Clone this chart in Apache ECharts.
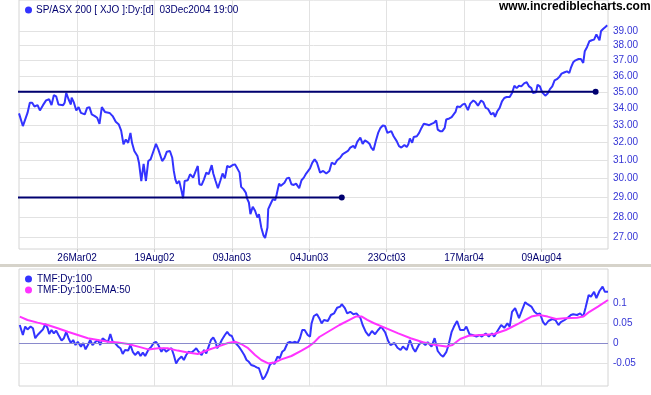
<!DOCTYPE html>
<html><head><meta charset="utf-8">
<script src="https://cdn.jsdelivr.net/npm/echarts@6/dist/echarts.min.js"></script>
<style>html,body{margin:0;padding:0;background:#fff}#c{width:651px;height:395px}</style>
</head><body><div id="c"></div>
<script>
// ---- data ----
var tickDays = [75, 175, 275, 375, 475, 575, 675];
var tickLabels = ['26Mar02', '19Aug02', '09Jan03', '04Jun03', '23Oct03', '17Mar04', '09Aug04'];
var priceTicks = [27, 28, 29, 30, 31, 32, 33, 34, 35, 36, 37, 38, 39];
var tmfTicks = [-0.05, 0, 0.05, 0.1];

var priceDay = [0,2,5,7,11,14,17,20,24,27,31,35,39,42,45,48,51,57,59,61,64,67,68,71,74,77,80,85,88,91,94,98,101,104,107,111,117,121,125,129,132,135,138,141,144,146,149,153,155,158,161,164,167,170,173,177,180,185,188,191,195,198,200,202,204,207,210,212,214,218,221,225,228,231,233,236,239,242,245,249,251,254,257,260,263,266,269,272,276,279,282,285,287,290,293,295,297,299,302,305,308,310,313,316,318,321,322,325,328,331,333,336,338,340,343,346,349,352,355,358,362,365,368,371,376,379,382,385,389,393,397,401,404,408,411,415,418,421,425,428,432,434,437,441,444,447,450,453,455,458,461,464,467,470,473,476,478,481,484,488,491,494,498,501,503,505,508,510,514,517,520,523,527,530,533,536,539,541,544,547,550,552,556,559,561,564,566,570,573,576,580,583,587,590,593,597,600,603,606,610,613,615,618,621,624,627,630,634,637,640,643,646,649,653,656,659,662,664,668,670,673,676,680,683,686,689,692,695,698,701,705,708,711,713,716,719,723,726,729,731,734,737,740,743,746,750,752,755,758,760];
var priceVal = [33.68,33.62,32.93,33.02,33.71,34.33,34.33,34.1,34.18,33.86,34.18,34.47,34.54,34.18,34.79,34.72,34.22,34.18,34.33,34.93,34.54,34.22,34.64,34.33,33.86,34.06,33.71,33.62,34.01,34.06,33.62,33.52,33.42,33.06,34.06,33.77,33.71,33.52,33.18,33.02,32.66,31.87,32.15,31.96,32.53,31.96,31.5,31.22,30.85,29.86,30.79,29.86,30.94,31.03,31.4,31.9,31.59,30.94,31.12,31.46,31.5,31.12,30.4,29.95,29.72,29.86,29.34,28.96,29.86,29.9,30.22,30.04,30.36,30.67,29.69,29.65,29.95,30.31,30.22,30.72,30.26,29.86,29.48,29.86,30.26,30.0,30.67,30.61,30.72,30.76,30.54,30.31,29.55,29.43,29.25,28.91,28.74,28.15,28.52,28.32,27.98,28.15,27.49,27.09,26.98,27.49,28.4,28.66,28.91,28.86,29.17,29.72,29.6,29.51,29.77,30.0,30.04,29.69,29.65,29.72,29.48,29.9,30.04,30.26,30.54,30.85,31.03,30.85,30.31,30.4,30.26,30.4,30.85,30.76,30.98,31.12,31.31,31.4,31.5,31.69,31.79,31.65,32.02,32.26,31.9,32.1,32.02,31.9,31.69,31.54,32.06,32.53,32.82,32.96,32.93,32.53,32.63,32.63,32.34,32.06,31.77,31.69,31.84,31.73,31.88,32.21,31.96,32.29,32.34,32.53,32.82,33.06,33.02,32.98,33.06,33.12,33.26,32.72,32.63,32.63,32.82,33.32,33.38,33.46,33.38,33.77,34.1,34.07,34.21,34.27,33.88,34.27,34.47,34.35,34.15,34.47,34.35,34.01,33.95,33.62,33.71,33.47,33.81,34.01,34.41,34.62,34.68,34.68,34.93,35.38,35.23,35.38,35.34,35.55,35.6,35.34,35.23,34.93,34.97,35.44,35.34,34.97,34.76,34.89,35.17,35.34,35.72,35.8,35.93,36.15,36.24,36.3,36.19,36.52,36.89,37.02,37.11,37.11,36.85,37.63,37.91,38.3,38.37,38.41,38.77,38.37,39.0,39.16,39.3,39.4];

var tmfDay = [1,3,5,8,11,15,18,21,24,28,31,34,37,39,42,45,48,51,55,58,61,64,67,70,73,76,80,83,86,89,92,95,99,102,105,108,111,115,118,121,124,128,131,134,137,141,144,147,150,154,157,160,163,167,171,174,177,180,184,187,190,193,197,200,203,206,210,213,216,219,223,226,229,232,236,239,242,245,248,251,254,256,259,262,266,269,272,275,278,281,284,287,291,294,297,300,304,307,310,313,315,318,321,324,327,330,334,337,340,343,347,350,353,356,360,363,366,369,373,376,378,381,385,388,391,394,399,403,407,411,415,417,421,424,428,432,436,441,444,448,452,456,460,464,468,473,477,480,485,489,493,496,501,505,509,512,517,521,525,528,533,537,541,545,548,552,555,559,562,566,570,575,578,582,586,591,595,598,603,607,611,614,619,623,627,631,634,637,641,646,650,654,657,662,666,670,673,677,680,684,689,693,697,700,705,709,713,716,721,725,729,732,736,739,743,746,750,754,757,761];
var tmfVal = [0.045,0.0325,0.02,0.041,0.034,0.041,0.037,0.012,0.02,0.028,0.034,0.0475,0.037,0.0225,0.0325,0.024,0.031,0.02,0.006,0.012,0.028,0.012,0,0.0075,-0.005,0.003,-0.009,0,-0.016,-0.005,0.0075,-0.005,0.003,0.0075,-0.005,0.012,0.0075,0.003,0.0225,0.003,0,-0.009,-0.013,-0.0275,-0.0175,-0.019,-0.005,-0.022,-0.03,-0.022,-0.0325,-0.024,-0.0325,-0.0175,-0.009,0,0.003,-0.005,-0.022,-0.013,-0.022,-0.0175,-0.013,-0.03,-0.051,-0.041,-0.034,-0.0425,-0.03,-0.022,-0.024,-0.019,-0.013,-0.022,-0.03,-0.0175,-0.026,-0.009,0.0075,0.014,0.003,-0.013,-0.005,0.0075,0.02,0.028,0.02,0.0175,0.003,-0.0025,-0.009,-0.0175,-0.03,-0.0425,-0.047,-0.055,-0.0575,-0.061,-0.063,-0.08,-0.091,-0.084,-0.072,-0.055,-0.049,-0.0525,-0.034,-0.038,-0.022,-0.0175,0,0.003,0,0.003,0,0.012,0.0325,0.0325,0.02,0.016,0.049,0.0675,0.072,0.062,0.049,0.0575,0.055,0.07,0.074,0.088,0.091,0.097,0.087,0.074,0.078,0.072,0.074,0.063,0.045,0.028,0.018,0.03,0.022,0.0325,0.041,0.027,0.005,-0.005,0,-0.012,-0.0175,-0.009,-0.0175,0.0075,-0.013,-0.022,-0.003,0.002,-0.005,0.002,-0.009,0.012,-0.02,-0.03,-0.034,-0.023,-0.005,0.028,0.041,0.055,0.0325,0.0325,0.041,0.022,0.02,0.016,0.02,0.016,0.024,0.016,0.024,0.016,0.0325,0.045,0.038,0.049,0.041,0.078,0.087,0.062,0.0825,0.102,0.097,0.091,0.078,0.072,0.074,0.053,0.045,0.055,0.06,0.0575,0.045,0.052,0.0575,0.063,0.07,0.072,0.07,0.074,0.066,0.088,0.12,0.116,0.128,0.112,0.13,0.141,0.128,0.128];

var emaDay = [1,11,24,37,50,63,76,89,102,115,128,141,154,167,180,192,205,218,231,244,257,270,279,287,296,305,313,322,330,339,352,365,374,381,388,401,414,427,435,443,450,458,474,490,506,522,538,552,560,570,581,597,613,629,646,662,672,683,694,705,721,729,737,748,761];
var emaVal = [0.066,0.0575,0.051,0.045,0.037,0.028,0.02,0.012,0.0075,0.003,0.001,-0.0025,-0.009,-0.016,-0.013,-0.013,-0.019,-0.024,-0.0275,-0.0175,-0.009,0,0.003,-0.0025,-0.013,-0.03,-0.0425,-0.051,-0.049,-0.041,-0.0325,-0.019,-0.009,0.001,0.015,0.03,0.045,0.058,0.066,0.066,0.058,0.05,0.037,0.024,0.012,0.002,-0.005,-0.009,-0.005,0.01,0.018,0.02,0.022,0.0325,0.049,0.066,0.07,0.066,0.06,0.062,0.063,0.066,0.078,0.091,0.1075];

var resistanceLevel = 35.0, resistanceDays = [-25, 745];
var supportLevel = 29.0, supportDays = [-25, 417];

var priceName = 'SP/ASX 200 [ XJO ]:Dy:[d]  03Dec2004 19:00';
var tmfName = 'TMF:Dy:100';
var emaName = 'TMF:Dy:100:EMA:50';

// ---- chart ----
var L = Math.log;
function pairs(d, v, f) { return d.map(function (x, i) { return [x, f ? f(v[i]) : v[i]]; }); }
var FONT = 'Arial, "Liberation Sans", sans-serif';
var gridColor = '#e2e2e2';
var navy = '#000070';

function trend(level, days) {
  return [
    { value: [days[0], L(level)], symbol: 'none' },
    { value: [days[1], L(level)], symbol: 'circle' }
  ];
}

var chart = echarts.init(document.getElementById('c'), null, { renderer: 'canvas' });
chart.setOption({
  animation: false,
  backgroundColor: '#ffffff',
  textStyle: { fontFamily: FONT },
  grid: [
    { left: 19, right: 43, top: -1, height: 250, show: true, borderColor: '#d4d4d4', borderWidth: 1, containLabel: false },
    { left: 19, right: 43, top: 269, height: 117, show: true, borderColor: '#d4d4d4', borderWidth: 1, containLabel: false }
  ],
  legend: [
    { left: 20, top: 0, icon: 'circle', itemWidth: 7, itemHeight: 7, itemGap: 5,
      textStyle: { color: navy, fontSize: 10, fontFamily: FONT, padding: [0, 0, 0, -1] },
      data: [priceName], selectedMode: false },
    { left: 20, top: 269, orient: 'vertical', icon: 'circle', itemWidth: 7, itemHeight: 7, itemGap: 1,
      textStyle: { color: navy, fontSize: 10, fontFamily: FONT },
      data: [tmfName, emaName], selectedMode: false }
  ],
  xAxis: [
    { type: 'value', gridIndex: 0, min: 0, max: 761,
      axisLine: { show: false },
      axisTick: { show: true, customValues: tickDays, length: 3, lineStyle: { color: '#c8c8c8' } },
      axisLabel: { customValues: tickDays, color: navy, fontSize: 10, margin: 4, fontFamily: FONT,
        formatter: function (v) { var i = tickDays.indexOf(Math.round(v)); return i >= 0 ? tickLabels[i] : ''; } },
      splitLine: { show: true, lineStyle: { color: gridColor } } },
    { type: 'value', gridIndex: 1, min: 0, max: 761,
      axisLine: { show: false },
      axisTick: { show: false, customValues: tickDays },
      axisLabel: { show: false, customValues: tickDays },
      splitLine: { show: true, lineStyle: { color: gridColor } } }
  ],
  yAxis: [
    { type: 'value', gridIndex: 0, position: 'right', min: 3.27541, max: 3.71891,
      axisLine: { show: false }, axisTick: { show: false, customValues: priceTicks.map(L) },
      axisLabel: { customValues: priceTicks.map(L), color: '#3535d5', fontSize: 10, margin: 5, fontFamily: FONT,
        formatter: function (v) { return Math.exp(v).toFixed(2); } },
      splitLine: { show: true, lineStyle: { color: gridColor } } },
    { type: 'value', gridIndex: 1, position: 'right', min: -0.1075, max: 0.185,
      axisLine: { show: false }, axisTick: { show: false, customValues: tmfTicks },
      axisLabel: { customValues: tmfTicks, color: '#3535d5', fontSize: 10, margin: 5, fontFamily: FONT,
        formatter: function (v) { return String(Math.round(v * 100) / 100); } },
      splitLine: { show: true, lineStyle: { color: gridColor } } }
  ],
  graphic: [
    { type: 'rect', shape: { x: 0, y: 264, width: 651, height: 3 }, style: { fill: '#d6d3ca' }, z: 100 },
    { type: 'text', left: 499, top: 1, style: { text: 'www.incrediblecharts.com', fill: '#000', font: 'bold 12px ' + FONT }, z: 100 }
  ],
  series: [
    { name: priceName, type: 'line', xAxisIndex: 0, yAxisIndex: 0, showSymbol: false, symbol: 'circle',
      color: '#3333ff', lineStyle: { width: 2, color: '#3333ff' }, data: pairs(priceDay, priceVal, L), z: 3 },
    { name: 'resistance', type: 'line', xAxisIndex: 0, yAxisIndex: 0, clip: false, symbolSize: 6,
      color: navy, lineStyle: { width: 2, color: navy }, data: trend(resistanceLevel, resistanceDays), z: 4 },
    { name: 'support', type: 'line', xAxisIndex: 0, yAxisIndex: 0, clip: false, symbolSize: 6,
      color: navy, lineStyle: { width: 2, color: navy }, data: trend(supportLevel, supportDays), z: 4 },
    { name: tmfName, type: 'line', xAxisIndex: 1, yAxisIndex: 1, showSymbol: false, symbol: 'circle',
      color: '#3333ff', lineStyle: { width: 2, color: '#3333ff' }, data: pairs(tmfDay, tmfVal), z: 3,
      markLine: { silent: true, symbol: 'none', label: { show: false },
        lineStyle: { color: '#8a8acc', type: 'solid', width: 1 }, data: [{ yAxis: 0 }] } },
    { name: emaName, type: 'line', xAxisIndex: 1, yAxisIndex: 1, showSymbol: false, symbol: 'circle',
      color: '#ff33ff', lineStyle: { width: 2, color: '#ff33ff' }, data: pairs(emaDay, emaVal), z: 4 }
  ]
});
</script></body></html>
